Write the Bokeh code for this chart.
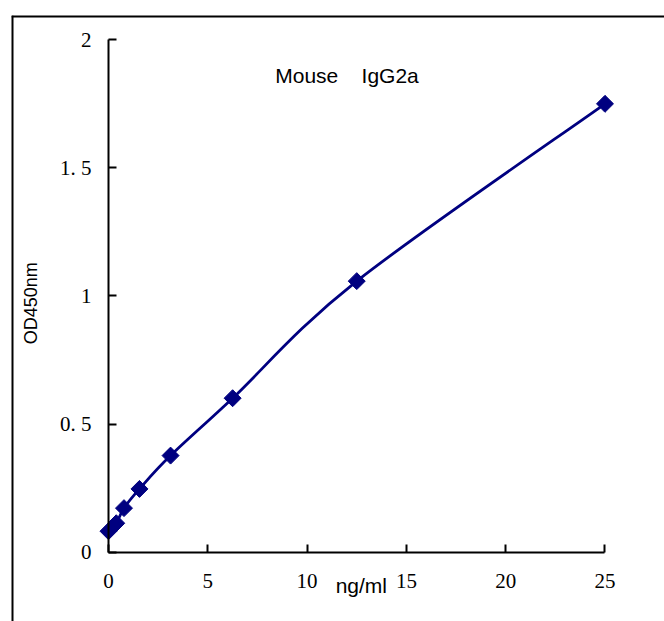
from bokeh.plotting import figure
from bokeh.models import Range1d, Label, ColumnDataSource, FixedTicker, Span
from bokeh.embed import file_html
from bokeh.resources import INLINE
import math

# ---- data ----
conc = [0, 0.39, 0.78, 1.56, 3.125, 6.25, 12.5, 25]
od = [0.082, 0.113, 0.172, 0.247, 0.377, 0.601, 1.058, 1.750]
x_ticks = [0, 5, 10, 15, 20, 25]
y_ticks = [0, 0.5, 1, 1.5, 2]
y_tick_labels = ["0", "0. 5", "1", "1. 5", "2"]
title_text = "Mouse\u00a0\u00a0\u00a0 IgG2a"
x_label = "ng/ml"
y_label = "OD450nm"

NAVY = "#000080"
X0, X1 = -4.884, 27.996
Y0, Y1 = -0.2705, 2.0948

p = figure(width=664, height=621, output_backend="svg", toolbar_location=None,
           x_range=Range1d(X0, X1), y_range=Range1d(Y0, Y1),
           x_axis_location="below", y_axis_location="left",
           min_border_left=11, min_border_top=15, min_border_right=0, min_border_bottom=0)
p.xgrid.visible = False
p.ygrid.visible = False
p.outline_line_color = None
p.background_fill_color = "white"
p.border_fill_color = "white"

# chart-area border (left and top edges; right/bottom run off the picture)
p.add_layout(Span(location=X0, dimension="height", line_color="black", line_width=4))
p.add_layout(Span(location=Y1, dimension="width", line_color="black", line_width=4))

for ax, ticks in ((p.xaxis[0], x_ticks), (p.yaxis[0], y_ticks)):
    ax.fixed_location = 0
    ax.ticker = FixedTicker(ticks=ticks)
    ax.axis_line_width = 2
    ax.axis_line_color = "black"
    ax.major_tick_line_width = 2
    ax.major_tick_line_color = "black"
    ax.major_tick_in = 8
    ax.major_tick_out = 0
    ax.minor_tick_line_color = None
    ax.major_label_text_font = "Liberation Serif"
    ax.major_label_text_font_size = "21px"
    ax.major_label_text_color = "black"

p.xaxis[0].major_label_standoff = 22
p.yaxis[0].major_label_standoff = 17
p.xaxis[0].bounds = (x_ticks[0], x_ticks[-1])
p.yaxis[0].bounds = (y_ticks[0], y_ticks[-1])
p.yaxis[0].major_label_overrides = {t: s for t, s in zip(y_ticks, y_tick_labels)}

# smoothed curve (Catmull-Rom style bezier segments between the data points)
n = len(conc)
x0s, y0s, x1s, y1s, cx0s, cy0s, cx1s, cy1s = [], [], [], [], [], [], [], []
for i in range(n - 1):
    pa = max(i - 1, 0)
    pb = min(i + 2, n - 1)
    x0s.append(conc[i]); y0s.append(od[i])
    x1s.append(conc[i + 1]); y1s.append(od[i + 1])
    cx0s.append(conc[i] + (conc[i + 1] - conc[pa]) / 6)
    cy0s.append(od[i] + (od[i + 1] - od[pa]) / 6)
    cx1s.append(conc[i + 1] - (conc[pb] - conc[i]) / 6)
    cy1s.append(od[i + 1] - (od[pb] - od[i]) / 6)
p.bezier(x0=x0s, y0=y0s, x1=x1s, y1=y1s, cx0=cx0s, cy0=cy0s, cx1=cx1s, cy1=cy1s,
         line_color=NAVY, line_width=2.8)

src = ColumnDataSource(dict(x=conc, y=od))
p.scatter("x", "y", source=src, marker="square", size=12, angle=math.pi / 4,
          fill_color=NAVY, line_color=NAVY)

p.add_layout(Label(x=12.01, y=1.862, text=title_text, text_font="Liberation Sans",
                   text_font_size="21px", text_align="center", text_baseline="alphabetic",
                   text_color="black"))
p.add_layout(Label(x=12.73, y=-0.130, text=x_label, text_font="Liberation Sans",
                   text_font_size="21px", text_align="center", text_baseline="alphabetic",
                   text_color="black"))
p.add_layout(Label(x=-3.877, y=0.972, text=y_label, text_font="Liberation Sans",
                   text_font_size="18px", text_align="center", text_baseline="middle",
                   angle=math.pi / 2, text_color="black"))

open("out.html", "w").write(file_html(p, INLINE))
